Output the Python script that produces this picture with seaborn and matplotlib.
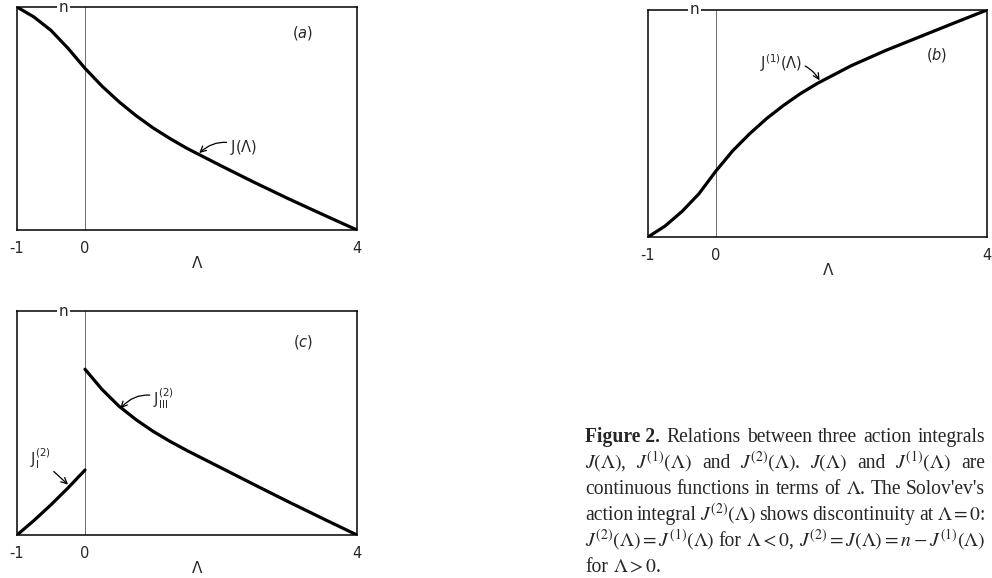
import matplotlib
matplotlib.use("Agg")
import matplotlib.pyplot as plt
import pandas as pd
import seaborn as sns

# Action integrals J(Λ), J^(1)(Λ), J^(2)(Λ) in units of n
lam = [-1.0, -0.75, -0.5, -0.25, 0.0, 0.25, 0.5, 0.75, 1.0, 1.25, 1.5, 2.0, 2.5, 3.0, 3.5, 4.0]
j_total = [1.0, 0.955, 0.895, 0.815, 0.725, 0.645, 0.575, 0.513, 0.458, 0.41, 0.366,
           0.288, 0.212, 0.139, 0.069, 0.0]
j_one = [0.0, 0.048, 0.112, 0.19, 0.29, 0.38, 0.455, 0.522, 0.58, 0.632, 0.677,
         0.755, 0.821, 0.881, 0.941, 1.0]
lam_neg = [-1.0, -0.75, -0.5, -0.25, 0.0]
j_two_I = [0.0, 0.065, 0.135, 0.21, 0.29]
lam_pos = [0.0, 0.25, 0.5, 0.75, 1.0, 1.25, 1.5, 2.0, 2.5, 3.0, 3.5, 4.0]
j_two_III = [0.74, 0.65, 0.575, 0.515, 0.463, 0.418, 0.377, 0.3, 0.223, 0.147, 0.073, 0.0]

tick_pos = [-1, 0, 4]
tick_labels = ["-1", "0", "4"]

caption_lines = [
    [("Figure 2.", "bold"), "Relations", "between", "three", "action", "integrals"],
    [r"$J(\Lambda)$,", r"$J^{(1)}(\Lambda)$", "and", r"$J^{(2)}(\Lambda)$.", r"$J(\Lambda)$",
     "and", r"$J^{(1)}(\Lambda)$", "are"],
    ["continuous", "functions", "in", "terms", "of", r"$\Lambda$.", "The", "Solov'ev's"],
    ["action", "integral", r"$J^{(2)}(\Lambda)$", "shows", "discontinuity", "at", r"$\Lambda=0$:"],
    [r"$J^{(2)}(\Lambda)=J^{(1)}(\Lambda)$", "for", r"$\Lambda<0$,",
     r"$J^{(2)}=J(\Lambda)=n-J^{(1)}(\Lambda)$"],
    ["for", r"$\Lambda>0$."],
]

sns.set_style("white")
plt.rcParams["font.family"] = ["DejaVu Sans"]
plt.rcParams["mathtext.fontset"] = "dejavusans"

W, H = 992, 578
fig = plt.figure(figsize=(W / 100, H / 100), dpi=100)


def px_axes(left, top, right, bottom):
    return fig.add_axes([left / W, 1 - bottom / H, (right - left) / W, (bottom - top) / H])


def style_panel(ax, tag, tag_xy):
    ax.set_xlim(-1, 4)
    ax.set_ylim(0, 1)
    ax.set_xticks(tick_pos)
    ax.set_xticklabels(tick_labels)
    ax.set_yticks([])
    ax.tick_params(axis="x", length=0, pad=8, labelsize=10.5)
    for sp in ax.spines.values():
        sp.set_visible(True)
        sp.set_linewidth(1.1)
        sp.set_color("black")
    ax.axvline(0, color="#555555", lw=0.6, zorder=1)
    ax.text(-0.32, 1.0, "n", ha="center", va="center", fontsize=11,
            bbox=dict(fc="white", ec="none", pad=1.2), zorder=6)
    ax.text(tag_xy[0], tag_xy[1], tag, ha="center", va="center", fontsize=10.5)
    ax.set_xlabel("Λ", fontsize=11)
    ax.xaxis.set_label_coords(0.53, -0.115)
    ax.set_ylabel("")


curve_kw = dict(color="black", linewidth=2.3, solid_capstyle="round", solid_joinstyle="round")
arrow_kw = dict(arrowstyle="->", color="black", lw=0.9, shrinkA=0, shrinkB=0)

# (a) J(Λ)
ax_a = px_axes(17, 7, 357, 230)
sns.lineplot(data=pd.DataFrame({"lam": lam, "J": j_total}), x="lam", y="J", ax=ax_a, **curve_kw)
style_panel(ax_a, r"($\mathit{a}$)", (3.2, 0.883))
ax_a.annotate(r"$\mathrm{J(\Lambda)}$", xy=(1.68, 0.345), xytext=(2.13, 0.37),
              ha="left", va="center", fontsize=10.5,
              arrowprops=dict(connectionstyle="arc3,rad=0.35", **arrow_kw))

# (b) J^(1)(Λ)
ax_b = px_axes(648, 10, 987, 237)
sns.lineplot(data=pd.DataFrame({"lam": lam, "J1": j_one}), x="lam", y="J1", ax=ax_b, **curve_kw)
style_panel(ax_b, r"($\mathit{b}$)", (3.26, 0.80))
ax_b.annotate(r"$\mathrm{J^{(1)}(\Lambda)}$", xy=(1.53, 0.69), xytext=(1.27, 0.765),
              ha="right", va="center", fontsize=10.5,
              arrowprops=dict(connectionstyle="arc3,rad=-0.35", **arrow_kw))

# (c) Solov'ev's J^(2)(Λ), discontinuous at Λ = 0
ax_c = px_axes(17, 311, 357, 535)
sns.lineplot(data=pd.DataFrame({"lam": lam_neg, "J2": j_two_I}), x="lam", y="J2", ax=ax_c, **curve_kw)
sns.lineplot(data=pd.DataFrame({"lam": lam_pos, "J2": j_two_III}), x="lam", y="J2", ax=ax_c, **curve_kw)
style_panel(ax_c, r"($\mathit{c}$)", (3.2, 0.86))
ax_c.annotate(r"$\mathrm{J^{(2)}_{III}}$", xy=(0.52, 0.565), xytext=(1.0, 0.61),
              ha="left", va="center", fontsize=10.5,
              arrowprops=dict(connectionstyle="arc3,rad=0.35", **arrow_kw))
ax_c.annotate(r"$\mathrm{J^{(2)}_{I}}$", xy=(-0.25, 0.225), xytext=(-0.66, 0.34),
              ha="center", va="center", fontsize=10.5,
              arrowprops=dict(connectionstyle="arc3,rad=0.0", **arrow_kw))

# Caption, justified between two pixel columns
cap_left, cap_right = 585, 985
baselines = [442, 468, 494, 520, 546, 572]
cap_font = dict(family="Liberation Serif", math_fontfamily="stix", ha="left", va="baseline")
fig.canvas.draw()
renderer = fig.canvas.get_renderer()

# size the caption so the third line fills the column with ordinary spacing
probe = fig.text(0, 0, " ".join(caption_lines[2]), fontsize=10, **cap_font)
probe_w = probe.get_window_extent(renderer).width
probe.remove()
cap_size = 10 * (cap_right - cap_left) / probe_w

for i, (words, base) in enumerate(zip(caption_lines, baselines)):
    texts = []
    for w in words:
        weight = "normal"
        if isinstance(w, tuple):
            w, weight = w
        t = fig.text(0, 1 - base / H, w, fontsize=cap_size, fontweight=weight, **cap_font)
        texts.append(t)
    widths = [t.get_window_extent(renderer).width for t in texts]
    last = i == len(caption_lines) - 1
    if last or len(texts) == 1:
        gap = 0.25 * cap_size * 100 / 72
    else:
        gap = (cap_right - cap_left - sum(widths)) / (len(texts) - 1)
    x = cap_left
    for t, w in zip(texts, widths):
        t.set_x(x / W)
        x += w + gap

fig.savefig("out.png", dpi=100)
